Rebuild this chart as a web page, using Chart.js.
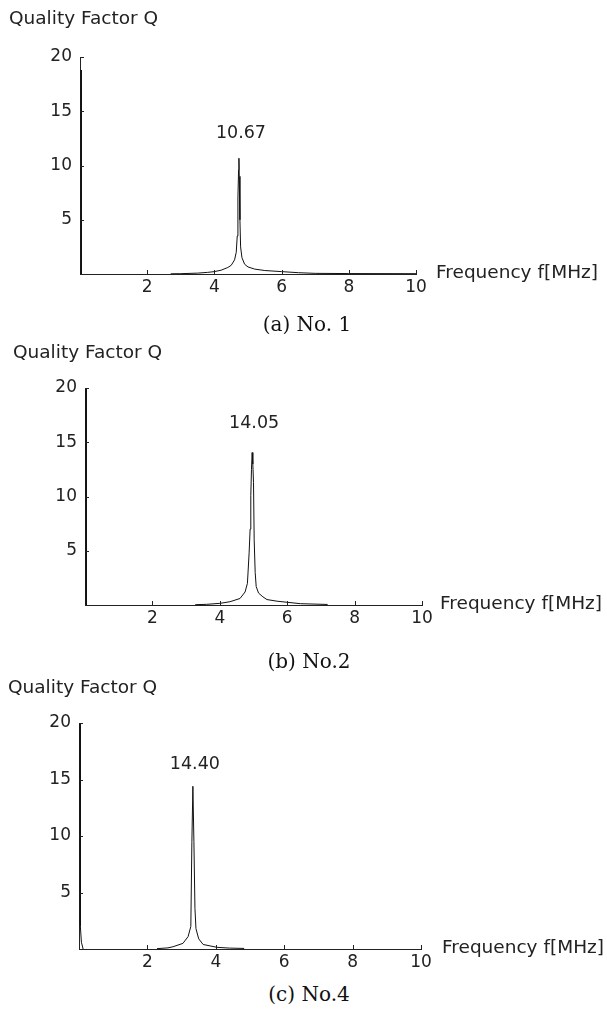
<!DOCTYPE html>
<html>
<head>
<meta charset="utf-8">
<script src="https://cdn.jsdelivr.net/npm/chart.js@4.4.1/dist/chart.umd.min.js"></script>
<style>
  body { margin: 0; background: #fff; }
  #page { position: relative; width: 607px; height: 1012px; overflow: hidden; }
  canvas { position: absolute; left: 0; }
  .caption {
    position: absolute; width: 200px; text-align: center;
    font-family: "DejaVu Serif", serif; font-size: 20px; color: #111;
  }
</style>
</head>
<body>
<div id="page">
  <canvas id="chart-a" width="607" height="300" style="top:0px"></canvas>
  <canvas id="chart-b" width="607" height="300" style="top:330px"></canvas>
  <canvas id="chart-c" width="607" height="310" style="top:665px"></canvas>
  <div class="caption" style="left:207px; top:312px">(a) No. 1</div>
  <div class="caption" style="left:209px; top:649px">(b) No.2</div>
  <div class="caption" style="left:209px; top:982px">(c) No.4</div>
</div>
<script>
  // valeurs (null = coupure de la courbe)
  const freqA = [0.03, 0.04, 1, 2.7, 3.0, 3.5, 3.8, 4.0, 4.2, 4.4, 4.5, 4.6, 4.65, 4.68, 4.70, 4.72, 4.73, 4.74, 4.76, 4.78, 4.82, 4.9, 5.0, 5.2, 5.5, 6.0, 6.5, 7.0, 8.0, 10.0];
  const qA = [18.8, 0, null, 0.02, 0.03, 0.08, 0.15, 0.22, 0.35, 0.6, 0.8, 1.3, 2.0, 3.5, 7, 9.6, 10.67, 9, 5, 2.5, 1.5, 0.9, 0.65, 0.45, 0.32, 0.22, 0.12, 0.06, 0.04, 0.03];

  const freqB = [0.03, 0.04, 1, 3.27, 3.6, 4.0, 4.3, 4.6, 4.75, 4.82, 4.87, 4.90, 4.92, 4.94, 4.96, 4.98, 5.0, 5.02, 5.05, 5.08, 5.15, 5.28, 5.4, 5.7, 6.0, 6.4, 7.2];
  const qB = [20, 0, null, 0.03, 0.06, 0.15, 0.3, 0.6, 1.2, 2, 4.8, 7, 10.1, 12.5, 14.05, 13, 11.3, 6, 3, 1.7, 1.1, 0.75, 0.5, 0.35, 0.25, 0.12, 0.05];

  const freqC = [0.03, 0.04, 0.07, 0.12, 1, 2.28, 2.6, 2.75, 3.04, 3.19, 3.27, 3.30, 3.33, 3.36, 3.39, 3.42, 3.5, 3.63, 4.03, 4.4, 4.83];
  const qC = [20, 2, 0.6, 0, null, 0.03, 0.1, 0.2, 0.5, 1.1, 2, 9.4, 14.4, 9.5, 3.6, 1.8, 0.9, 0.4, 0.15, 0.08, 0.05];

  const peakLabels = ["10.67", "14.05", "14.40"];
  const xTicks = [2, 4, 6, 8, 10];
  const yTicks = [5, 10, 15, 20];

  const FONT = { family: "'DejaVu Sans', sans-serif", size: 17 };
  const TITLE_SIZE = 18.5;
  const INK = "#222";

  // texte + petites graduations vers l'intérieur
  const decorPlugin = {
    id: "decor",
    afterDraw(chart, args, opts) {
      const { ctx, chartArea } = chart;
      const xs = chart.scales.x;
      const ys = chart.scales.y;
      ctx.save();
      ctx.strokeStyle = INK;
      ctx.lineWidth = 1;
      ctx.beginPath();
      xTicks.forEach((v) => {
        const px = Math.round(xs.getPixelForValue(v)) + 0.5;
        ctx.moveTo(px, chartArea.bottom);
        ctx.lineTo(px, chartArea.bottom - 4);
      });
      yTicks.forEach((v) => {
        const py = Math.round(ys.getPixelForValue(v)) + 0.5;
        ctx.moveTo(chartArea.left, py);
        ctx.lineTo(chartArea.left + 4, py);
      });
      ctx.stroke();

      ctx.fillStyle = INK;
      ctx.font = `${TITLE_SIZE}px ${FONT.family}`;
      ctx.textBaseline = "middle";
      ctx.textAlign = "left";
      ctx.fillText("Quality Factor Q", opts.titleX, opts.titleY);
      ctx.fillText("Frequency f[MHz]", chartArea.right + opts.freqGap, ys.getPixelForValue(0) - 1);

      // étiquette du pic
      const pts = chart.data.datasets[0].data.filter((p) => p.x > 1 && p.y !== null);
      const peak = pts.reduce((a, b) => (b.y > a.y ? b : a));
      ctx.font = `${FONT.size + 0.5}px ${FONT.family}`;
      ctx.textAlign = "center";
      ctx.fillText(opts.label, xs.getPixelForValue(peak.x) + 2, ys.getPixelForValue(peak.y) - opts.labelGap);
      ctx.restore();
    },
  };

  function makePanel(id, freq, q, label, pad, yAxisWidth, titleX, titleY, freqGap, labelGap) {
    const ctx = document.getElementById(id).getContext("2d");
    return new Chart(ctx, {
      type: "line",
      data: {
        datasets: [
          {
            data: freq.map((f, i) => ({ x: f, y: q[i] })),
            borderColor: "#111",
            borderWidth: 1,
            pointRadius: 0,
            tension: 0,
            spanGaps: false,
          },
        ],
      },
      options: {
        responsive: false,
        animation: false,
        layout: { padding: pad },
        plugins: {
          legend: { display: false },
          tooltip: { enabled: false },
          decor: { label, titleX, titleY, freqGap, labelGap },
        },
        scales: {
          x: {
            type: "linear",
            min: 0,
            max: 10,
            afterFit: (s) => { s.height = 24; },
            afterBuildTicks: (s) => { s.ticks = xTicks.map((v) => ({ value: v })); },
            grid: { display: false, drawTicks: false },
            border: { display: true, color: INK, width: 1 },
            ticks: { color: INK, font: FONT, padding: 3, maxRotation: 0 },
          },
          y: {
            min: 0,
            max: 20,
            afterFit: (s) => { s.width = yAxisWidth; },
            afterBuildTicks: (s) => { s.ticks = yTicks.map((v) => ({ value: v })); },
            grid: { display: false, drawTicks: false },
            border: { display: true, color: INK, width: 1 },
            ticks: { color: INK, font: FONT, padding: 8 },
          },
        },
      },
      plugins: [decorPlugin],
    });
  }

  makePanel("chart-a", freqA, qA, peakLabels[0], { top: 57, right: 191, bottom: 2, left: 0 }, 80, 9, 19, 20, 25);
  makePanel("chart-b", freqB, qB, peakLabels[1], { top: 58, right: 185, bottom: 1, left: 0 }, 85, 13, 23, 18, 29);
  makePanel("chart-c", freqC, qC, peakLabels[2], { top: 58, right: 186, bottom: 2, left: 0 }, 79, 8, 23, 21, 22);
</script>
</body>
</html>
